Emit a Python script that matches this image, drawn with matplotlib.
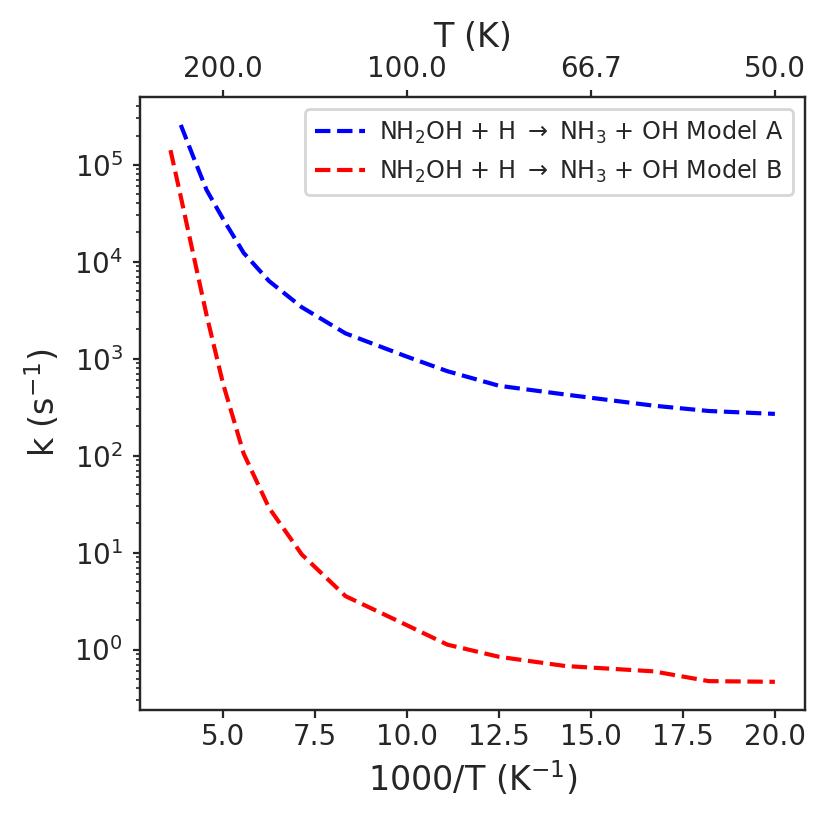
import matplotlib
matplotlib.use('Agg')
import matplotlib.pyplot as plt
import numpy as np

plt.rcParams['text.color'] = '.15'
plt.rcParams['axes.labelcolor'] = '.15'
plt.rcParams['axes.edgecolor'] = '.15'
plt.rcParams['xtick.color'] = '.15'
plt.rcParams['ytick.color'] = '.15'
plt.rcParams['xtick.major.size'] = 2.7
plt.rcParams['ytick.major.size'] = 2.7
plt.rcParams['ytick.minor.size'] = 1.6
plt.rcParams['xtick.major.pad'] = 2.2
plt.rcParams['ytick.major.pad'] = 3.5
plt.rcParams['axes.labelpad'] = 3.0

#%% data
invT_a = [3.85, 4.17, 4.55, 5.0, 5.56, 6.25, 7.14, 8.33, 10.0, 11.1, 12.5, 14.3, 16.7, 18.2, 20.0]
logk_a = [5.41, 5.10, 4.74, 4.44, 4.09, 3.80, 3.53, 3.26, 3.02, 2.87, 2.72, 2.63, 2.515, 2.46, 2.43]

invT_b = [3.57, 3.85, 4.17, 4.55, 5.0, 5.56, 6.25, 7.14, 8.33, 10.0, 11.1, 12.5, 14.3, 16.7, 18.2, 20.0]
logk_b = [5.15, 4.67, 4.11, 3.45, 2.74, 2.02, 1.46, 0.98, 0.55, 0.25, 0.05, -0.075, -0.17, -0.225, -0.326, -0.333]

top_ticks = [5.0, 10.0, 15.0, 20.0]

label_a = r'NH$_2$OH + H $\rightarrow$ NH$_3$ + OH Model A'
label_b = r'NH$_2$OH + H $\rightarrow$ NH$_3$ + OH Model B'

#%%
fig = plt.figure(figsize=(4.15, 4.15), dpi=200)
curr_ax = fig.add_subplot(111)
fig.subplots_adjust(left=0.169, right=0.970, top=0.883, bottom=0.145)

curr_ax.plot(invT_a, 10 ** np.array(logk_a), '--', color='blue', label=label_a)
curr_ax.plot(invT_b, 10 ** np.array(logk_b), '--', color='red', label=label_b)
curr_ax.set_yscale('log')

curr_ax.set_xlabel('1000/T (K$^{-1}$)', fontsize=12)
curr_ax.set_ylabel('k (s$^{-1}$)', fontsize=12, labelpad=4.5)
curr_ax.tick_params(labelsize=10)
curr_ax.xaxis.set_major_locator(matplotlib.ticker.MultipleLocator(2.5))
curr_ax.xaxis.set_major_formatter(matplotlib.ticker.FormatStrFormatter('%.1f'))
curr_ax.legend(loc='upper right', fontsize=8.6, handlelength=2.1, handletextpad=0.6)

top_ax = curr_ax.twiny()
top_ax.set_xlim(curr_ax.get_xlim())
top_ax.set_xticks(top_ticks)
top_ax.set_xticklabels(['%.1f' % (1000 / t) for t in top_ticks])
top_ax.tick_params(labelsize=10)
top_ax.set_xlabel('T (K)', fontsize=12)

fig.savefig('out.png', dpi=200)
